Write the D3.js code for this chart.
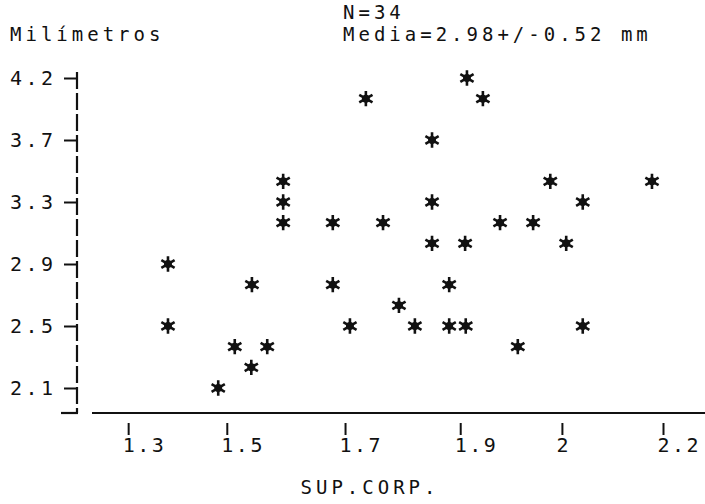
<!DOCTYPE html>
<html>
<head>
<meta charset="utf-8">
<script src="https://cdn.jsdelivr.net/npm/d3@7"></script>
<style>
  body { margin: 0; background: #fff; }
  text { font-family: "DejaVu Sans Mono", "Liberation Mono", monospace; fill: #111; }
</style>
</head>
<body>
<div id="vis1"></div>
<script>
const FRAME_HEIGHT = 504;
const FRAME_WIDTH = 705;

// body surface (x) and millimetres (y), one entry per case
const SUP_CORP = [1.880, 1.906, 1.715, 1.823, 1.580, 2.016, 2.182, 1.580, 1.823, 2.069,
                  1.580, 1.661, 1.743, 1.934, 1.988, 1.823, 1.877, 2.042, 1.392, 1.529,
                  1.661, 1.851, 1.769, 1.392, 1.689, 1.795, 1.851, 1.878, 2.069, 1.501,
                  1.554, 1.963, 1.528, 1.474];
const MILIMETROS = [4.20, 4.06, 4.06, 3.78, 3.50, 3.50, 3.50, 3.36, 3.36, 3.36,
                    3.22, 3.22, 3.22, 3.22, 3.22, 3.08, 3.08, 3.08, 2.94, 2.80,
                    2.80, 2.80, 2.66, 2.52, 2.52, 2.52, 2.52, 2.52, 2.52, 2.38,
                    2.38, 2.38, 2.24, 2.10];

const X_TICKS = [1.327, 1.488, 1.681, 1.869, 2.035, 2.2];
const X_TICK_LABELS = ["1.3", "1.5", "1.7", "1.9", "2", "2.2"];
const Y_TICKS = [2.1, 2.52, 2.94, 3.36, 3.78, 4.2];
const Y_TICK_LABELS = ["2.1", "2.5", "2.9", "3.3", "3.7", "4.2"];

const data = SUP_CORP.map((x, i) => ({x: x, y: MILIMETROS[i]}));

const FRAME1 = d3.select("#vis1")
                  .append("svg")
                    .attr("height", FRAME_HEIGHT)
                    .attr("width", FRAME_WIDTH);

const X_SCALE = d3.scaleLinear().domain([1.33, 2.2]).range([130, 663]);
const Y_SCALE = d3.scaleLinear().domain([2.1, 4.2]).range([388, 78]);

const AXIS_X = 77;    // y axis position
const AXIS_Y = 413;   // x axis position

// y axis: dashed vertical line with a little foot
FRAME1.append("line")
      .attr("x1", AXIS_X).attr("x2", AXIS_X)
      .attr("y1", Y_SCALE(4.2) - 6).attr("y2", AXIS_Y)
      .attr("stroke", "#111").attr("stroke-width", 2.2)
      .attr("stroke-dasharray", "17,4");
FRAME1.append("line")
      .attr("x1", 61).attr("x2", AXIS_X + 1)
      .attr("y1", AXIS_Y).attr("y2", AXIS_Y)
      .attr("stroke", "#111").attr("stroke-width", 2.2);

const yAxis = FRAME1.append("g")
      .attr("transform", "translate(" + (AXIS_X - 1) + ",0)")
      .call(d3.axisLeft(Y_SCALE)
              .tickValues(Y_TICKS)
              .tickFormat((d, i) => Y_TICK_LABELS[i])
              .tickSize(12)
              .tickPadding(5));
yAxis.select(".domain").remove();
yAxis.selectAll(".tick line").attr("stroke", "#111").attr("stroke-width", 2);
yAxis.selectAll(".tick text")
     .attr("font-size", "20px")
     .attr("letter-spacing", "3.5px")
     .attr("text-anchor", "start")
     .attr("x", -66);

// x axis
FRAME1.append("line")
      .attr("x1", 92).attr("x2", FRAME_WIDTH)
      .attr("y1", AXIS_Y).attr("y2", AXIS_Y)
      .attr("stroke", "#111").attr("stroke-width", 2.2);

const xAxis = FRAME1.append("g")
      .attr("transform", "translate(0," + (AXIS_Y + 10) + ")")
      .call(d3.axisBottom(X_SCALE)
              .tickValues(X_TICKS)
              .tickFormat((d, i) => X_TICK_LABELS[i])
              .tickSize(12)
              .tickPadding(3));
xAxis.select(".domain").remove();
xAxis.selectAll(".tick line").attr("stroke", "#111").attr("stroke-width", 2);
xAxis.selectAll(".tick text")
     .attr("font-size", "20px")
     .attr("letter-spacing", "2.5px")
     .attr("text-anchor", "start")
     .attr("x", -6);

// asterisks
const star = d3.symbol().type(d3.symbolAsterisk).size(165);
const pts = FRAME1.selectAll(".pt")
      .data(data)
      .enter()
      .append("g")
        .attr("class", "pt")
        .attr("transform", (d) => "translate(" + X_SCALE(d.x) + "," + Y_SCALE(d.y) + ")");
pts.append("path")
   .attr("d", star)
   .attr("fill", "none")
   .attr("stroke", "#111")
   .attr("stroke-width", 2.6);
pts.append("circle")
   .attr("r", 4)
   .attr("fill", "#111");

// titles
FRAME1.append("text")
      .attr("x", 10).attr("y", 41)
      .attr("font-size", "19px").attr("letter-spacing", "4px")
      .text("Milímetros");
FRAME1.append("text")
      .attr("x", 343).attr("y", 19)
      .attr("font-size", "19px").attr("letter-spacing", "4px")
      .text("N=34");
FRAME1.append("text")
      .attr("x", 343).attr("y", 41)
      .attr("font-size", "19px").attr("letter-spacing", "4px")
      .text("Media=2.98+/-0.52 mm");

FRAME1.append("text")
      .attr("x", 370).attr("y", 494)
      .attr("text-anchor", "middle")
      .attr("font-size", "19px").attr("letter-spacing", "4px")
      .text("SUP.CORP.");
</script>
</body>
</html>
